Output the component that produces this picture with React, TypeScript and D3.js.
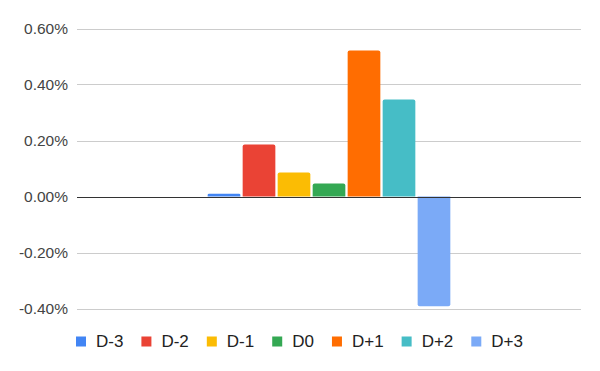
import * as d3 from 'd3';
import React, { useEffect, useRef } from 'react';

const seriesNames = ['D-3', 'D-2', 'D-1', 'D0', 'D+1', 'D+2', 'D+3'];
const seriesValues = [0.0001, 0.00186, 0.00086, 0.00046, 0.00521, 0.00346, -0.00392];
const seriesColours = ['#4285f4', '#ea4335', '#fbbc04', '#34a853', '#ff6d01', '#46bdc6', '#7baaf7'];
const yTicks = [-0.004, -0.002, 0, 0.002, 0.004, 0.006];

const width = 600;
const height = 371;
const fontFamily = 'Arial, "Liberation Sans", sans-serif';

const pct = d3.formatLocale({
    decimal: '.',
    thousands: ',',
    grouping: [3],
    currency: ['$', ''],
    minus: '-',
}).format('.2%');

// top corners rounded, bottom square (or mirrored for negatives)
function barPath(x: number, w: number, y0: number, y1: number, r: number) {
    const h = Math.abs(y1 - y0);
    const rr = Math.min(r, h / 2, w / 2);
    if (y1 <= y0) {
        const top = y1;
        return `M${x},${y0}V${top + rr}Q${x},${top} ${x + rr},${top}H${x + w - rr}Q${x + w},${top} ${x + w},${top + rr}V${y0}Z`;
    }
    const bot = y1;
    return `M${x},${y0}V${bot - rr}Q${x},${bot} ${x + rr},${bot}H${x + w - rr}Q${x + w},${bot} ${x + w},${bot - rr}V${y0}Z`;
}

const App = () => {
    const ref = useRef<SVGSVGElement>(null);

    useEffect(() => {
        const svg = d3.select(ref.current);
        svg.selectAll('*').remove();

        const y = d3.scaleLinear().domain([-0.004, 0.006]).range([308.5, 28.5]);
        const x0 = d3.scaleBand<string>().domain(['']).range([77, 581]).padding(0.35);
        const x1 = d3.scaleBand<string>()
            .domain(seriesNames)
            .range([0, x0.bandwidth()])
            .paddingInner(0.066)
            .paddingOuter(0);

        // gridlines
        svg.append('g')
            .selectAll('line')
            .data(yTicks.filter(t => t !== 0))
            .join('line')
            .attr('x1', 77)
            .attr('x2', 581)
            .attr('y1', d => Math.round(y(d)) + 0.5)
            .attr('y2', d => Math.round(y(d)) + 0.5)
            .attr('stroke', '#cccccc')
            .attr('stroke-width', 1);

        // tick labels
        svg.append('g')
            .selectAll('text')
            .data(yTicks)
            .join('text')
            .attr('x', 68)
            .attr('y', d => y(d))
            .attr('dy', '0.35em')
            .attr('text-anchor', 'end')
            .attr('font-family', fontFamily)
            .attr('font-size', 15.5)
            .attr('fill', '#444444')
            .text(d => pct(d));

        // bars
        const gx = x0('') as number;
        svg.append('g')
            .selectAll('path')
            .data(seriesNames)
            .join('path')
            .attr('d', (d, i) => barPath(gx + (x1(d) as number), x1.bandwidth(), y(0), y(seriesValues[i]), 2))
            .attr('fill', (d, i) => seriesColours[i]);

        // zero line
        svg.append('line')
            .attr('x1', 77)
            .attr('x2', 581)
            .attr('y1', Math.round(y(0)) + 0.5)
            .attr('y2', Math.round(y(0)) + 0.5)
            .attr('stroke', '#333333')
            .attr('stroke-width', 1);

        // legend
        const legend = svg.append('g');
        const ly = 341.5;
        let lx = 76;
        seriesNames.forEach((name, i) => {
            legend.append('rect')
                .attr('x', lx)
                .attr('y', ly - 5)
                .attr('width', 10)
                .attr('height', 10)
                .attr('fill', seriesColours[i]);
            const t = legend.append('text')
                .attr('x', lx + 20)
                .attr('y', ly)
                .attr('dy', '0.35em')
                .attr('font-family', fontFamily)
                .attr('font-size', 17)
                .attr('fill', '#222222')
                .text(name);
            const tw = (t.node() as SVGTextElement).getComputedTextLength();
            lx += 20 + tw + 18;
        });
    }, []);

    return (
        <svg
            ref={ref}
            width={width}
            height={height}
            style={{ position: 'absolute', left: 0, top: 0, background: '#ffffff' }}
        />
    );
};

export default App;
